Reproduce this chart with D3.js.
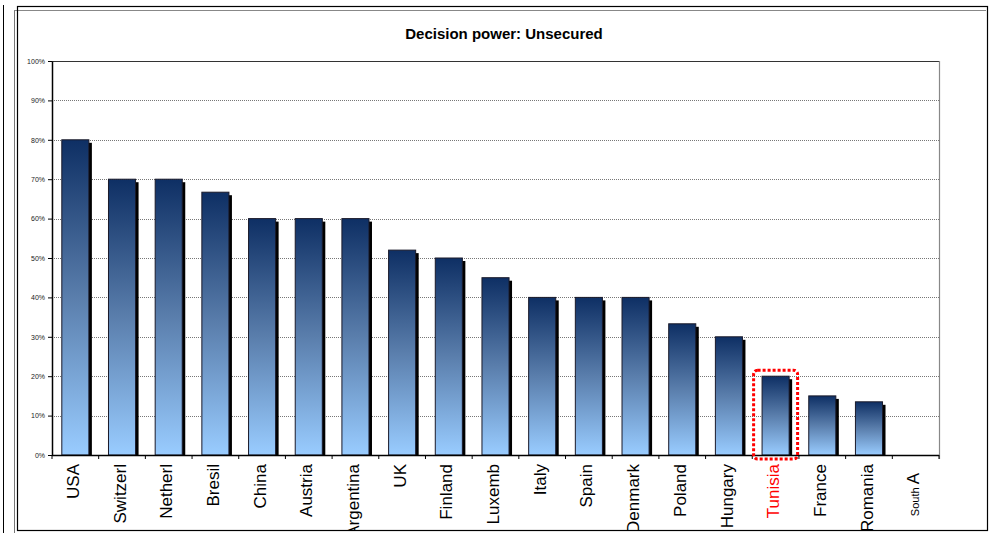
<!DOCTYPE html>
<html><head><meta charset="utf-8">
<script src="https://cdn.jsdelivr.net/npm/d3@7"></script>
<style>body{margin:0;background:#fff;}svg{display:block;font-family:"Liberation Sans",Arial,sans-serif;}</style>
</head><body>
<svg id="c" width="990" height="533"></svg>
<script>
const categories = ["USA","Switzerl","Netherl","Bresil","China","Austria","Argentina","UK","Finland","Luxemb","Italy","Spain","Denmark","Poland","Hungary","Tunisia","France","Romania","South A"];
const values = [80,70,70,66.7,60,60,60,52,50,45,40,40,40,33.3,30,20,15,13.5,0];
const yTicks = [0,10,20,30,40,50,60,70,80,90,100];
const highlight = "Tunisia";
const title = "Decision power: Unsecured";

const svg = d3.select("#c");
const W = 990, H = 533;
const m = {left:52, right:939, top:61, bottom:455};

const x = d3.scaleBand().domain(categories).range([m.left, m.right]).paddingInner(0.42).paddingOuter(0.21);
const xb = d3.scaleBand().domain(categories).range([m.left, m.right]);
const y = d3.scaleLinear().domain([0,100]).range([m.bottom, m.top]);

// defs
const defs = svg.append("defs");
const g = defs.append("linearGradient").attr("id","barGrad").attr("x1",0).attr("y1",0).attr("x2",0).attr("y2",1);
g.append("stop").attr("offset","0%").attr("stop-color","#0e2f64");
g.append("stop").attr("offset","50%").attr("stop-color","#5a7eac");
g.append("stop").attr("offset","100%").attr("stop-color","#99ccff");
defs.append("clipPath").attr("id","chartClip").append("rect").attr("x",18).attr("y",6).attr("width",970).attr("height",525);

// outer frames
svg.append("line").attr("x1",3.5).attr("x2",3.5).attr("y1",5).attr("y2",H).attr("stroke","#000").attr("stroke-width",1);
svg.append("line").attr("x1",14.5).attr("x2",14.5).attr("y1",10).attr("y2",H).attr("stroke","#777").attr("stroke-width",1);
svg.append("line").attr("x1",14.5).attr("x2",986).attr("y1",10.5).attr("y2",10.5).attr("stroke","#888").attr("stroke-width",1);
svg.append("rect").attr("x",17.5).attr("y",6.5).attr("width",970).attr("height",524).attr("fill","none").attr("stroke","#000").attr("stroke-width",1.2);

// title
svg.append("text").attr("x",504).attr("y",39).attr("text-anchor","middle").attr("font-size",15).attr("font-weight","bold").text(title);

// gridlines
svg.append("g").selectAll("line").data(yTicks.filter(d=>d>0 && d<100)).join("line")
  .attr("x1",m.left).attr("x2",m.right).attr("y1",d=>Math.round(y(d))+0.5).attr("y2",d=>Math.round(y(d))+0.5)
  .attr("stroke","#777").attr("stroke-width",1).attr("stroke-dasharray","1,1");

// plot border top and right
svg.append("line").attr("x1",m.left).attr("x2",m.right).attr("y1",m.top+0.5).attr("y2",m.top+0.5).attr("stroke","#333").attr("stroke-width",1.2);
svg.append("line").attr("x1",m.right+0.5).attr("x2",m.right+0.5).attr("y1",m.top).attr("y2",m.bottom+4).attr("stroke","#888").attr("stroke-width",1.2);

// bars: shadow then bar
const bars = svg.append("g");
const data = categories.map((c,i)=>({c, v:values[i]})).filter(d=>d.v>0);
bars.selectAll("rect.sh").data(data).join("rect").attr("class","sh")
  .attr("x",d=>x(d.c)+3).attr("y",d=>y(d.v)+3).attr("width",x.bandwidth())
  .attr("height",d=>Math.max(0,y(0)-y(d.v)-3)).attr("fill","#000");
bars.selectAll("rect.b").data(data).join("rect").attr("class","b")
  .attr("x",d=>x(d.c)).attr("y",d=>y(d.v)).attr("width",x.bandwidth())
  .attr("height",d=>y(0)-y(d.v)).attr("fill","url(#barGrad)")
  .attr("stroke","#1a1a2a").attr("stroke-width",1);

// y axis
const ya = svg.append("g").attr("transform",`translate(${m.left},0)`)
  .call(d3.axisLeft(y).tickValues(yTicks).tickFormat(d=>d+"%").tickSize(4).tickSizeOuter(0));
ya.select(".domain").attr("stroke","#000").attr("stroke-width",1.5);
ya.selectAll(".tick line").attr("stroke","#000");
ya.selectAll(".tick text").attr("font-size",7).attr("fill","#222").attr("x",-7).attr("font-family","Liberation Sans, Arial, sans-serif");

// x axis baseline + ticks at boundaries
svg.append("line").attr("x1",m.left).attr("x2",m.right).attr("y1",m.bottom+0.5).attr("y2",m.bottom+0.5).attr("stroke","#000").attr("stroke-width",1.5);
const bounds = categories.map(c=>xb(c)).concat([m.right]);
svg.append("g").selectAll("line").data(bounds).join("line")
  .attr("x1",d=>d).attr("x2",d=>d).attr("y1",m.bottom).attr("y2",m.bottom+4).attr("stroke","#000").attr("stroke-width",1);

// x labels
const lab = svg.append("g").attr("clip-path","url(#chartClip)");
categories.forEach(c=>{
  const cx = xb(c)+xb.bandwidth()/2 - 2;
  const t = lab.append("text").attr("transform",`translate(${cx},${c.startsWith("South")?473:464}) rotate(-90)`)
    .attr("text-anchor","end").attr("dy","0.33em").attr("font-size",17)
    .attr("fill", c===highlight ? "#ff0000" : "#000");
  if (c.startsWith("South")) {
    const parts = c.split(" ");
    t.append("tspan").attr("font-size",11).text(parts[0]+" ");
    t.append("tspan").text(parts[1]);
  } else t.text(c);
});

// highlight box
const hv = values[categories.indexOf(highlight)];
const hx = xb(highlight)+xb.bandwidth()/2;
svg.append("rect").attr("x",hx-22).attr("y",y(hv)-6).attr("width",44).attr("height",y(0)-y(hv)+10)
  .attr("rx",4).attr("fill","none").attr("stroke","#ff0000").attr("stroke-width",3).attr("stroke-dasharray","3,2");
</script>
</body></html>
